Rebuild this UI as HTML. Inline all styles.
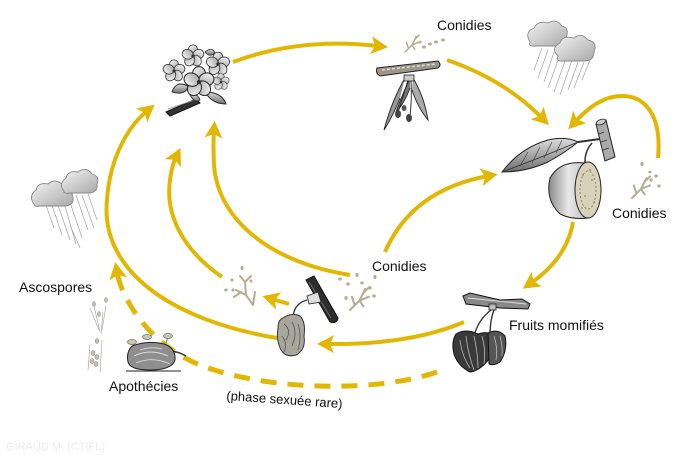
<!DOCTYPE html>
<html><head><meta charset="utf-8"><style>
html,body{margin:0;padding:0;background:#fff;}
svg{display:block;}
text{font-family:"Liberation Sans",sans-serif;fill:#111;}
</style></head><body>
<svg width="700" height="455" viewBox="0 0 700 455" xmlns="http://www.w3.org/2000/svg">
<defs>
<marker id="ah" markerUnits="userSpaceOnUse" markerWidth="24" markerHeight="24" viewBox="-4 -12 24 24" refX="6" refY="0" orient="auto">
<path d="M-1,-9 L16,0 L-1,9 L3,0 Z" fill="#E2B704"/>
</marker>
<linearGradient id="pg" x1="0" y1="0" x2="1" y2="1"><stop offset="0" stop-color="#ffffff"/><stop offset="1" stop-color="#9a9a9a"/></linearGradient>
<linearGradient id="lg" x1="0" y1="0" x2="0" y2="1"><stop offset="0" stop-color="#dcdcdc"/><stop offset="1" stop-color="#6e6e6e"/></linearGradient>
<linearGradient id="cg" x1="0" y1="0" x2="1" y2="1"><stop offset="0" stop-color="#f4f4f4"/><stop offset="1" stop-color="#a8a8a8"/></linearGradient>
<linearGradient id="ag" x1="0" y1="0" x2="1" y2="0"><stop offset="0" stop-color="#8a8a8a"/><stop offset="0.5" stop-color="#e8e8e8"/><stop offset="1" stop-color="#bdbdbd"/></linearGradient>
<g id="fl">
<ellipse cx="0" cy="-7" rx="6" ry="7" fill="url(#pg)" stroke="#222" stroke-width="0.9"/>
<ellipse cx="0" cy="-7" rx="6" ry="7" fill="url(#pg)" stroke="#222" stroke-width="0.9" transform="rotate(72)"/>
<ellipse cx="0" cy="-7" rx="6" ry="7" fill="url(#pg)" stroke="#222" stroke-width="0.9" transform="rotate(144)"/>
<ellipse cx="0" cy="-7" rx="6" ry="7" fill="url(#pg)" stroke="#222" stroke-width="0.9" transform="rotate(216)"/>
<ellipse cx="0" cy="-7" rx="6" ry="7" fill="url(#pg)" stroke="#222" stroke-width="0.9" transform="rotate(288)"/>
<circle r="2" fill="#333"/>
</g>
<g id="cn" fill="none" stroke="#b5ae90" stroke-width="2.2" stroke-linecap="round">
<path d="M0,0 L10,-10 L16,-22 M10,-10 L20,-14 M5,-5 L2,-14 M14,-18 L20,-24 M10,-10 L14,-4"/>
</g>
<g id="rain" stroke="#9a9a9a" stroke-width="0.8">
</g>
</defs>

<!-- ===== ARROWS ===== -->
<g fill="none" stroke="#E2B704" stroke-width="4" stroke-linecap="butt">
<path d="M233,62 Q300,37 378,46" marker-end="url(#ah)"/>
<path d="M447,60 Q505,80 542,118" marker-end="url(#ah)"/>
<path d="M658,158 C662,115 645,96 622,96 C603,96 588,108 575,122" marker-end="url(#ah)"/>
<path d="M573,222 Q567,258 531,283" marker-end="url(#ah)"/>
<path d="M464,322 Q410,345 327,344" marker-end="url(#ah)"/>
<path d="M289,304 L272,299" marker-end="url(#ah)"/>
<path d="M277,338 C170,320 100,270 107,200 C110,155 130,125 147,111" marker-end="url(#ah)"/>
<path d="M222,277 C183,250 165,215 170,180 Q172,165 176,157" marker-end="url(#ah)"/>
<path d="M350,275 C270,262 218,220 214,165 Q213,145 214,131" marker-end="url(#ah)"/>
<path d="M385,252 Q412,190 488,176" marker-end="url(#ah)"/>
<path d="M437,372 C380,392 270,392 200,365 C150,345 122,300 117,272" stroke-width="5" stroke-dasharray="16 11" marker-end="url(#ah)"/>
</g>

<!-- ===== FLOWER CLUSTER ===== -->
<g>
<path d="M166,112 L196,99 L200,103 L170,116 Z" fill="#333" stroke="#111" stroke-width="1"/>
<path d="M168,109 L195,100" stroke="#888" stroke-width="0.8"/>
<path d="M172,92 Q176,80 188,86 Q186,96 172,92 Z" fill="url(#lg)" stroke="#222" stroke-width="0.9"/>
<path d="M205,92 Q222,92 226,104 Q212,104 205,92 Z" fill="url(#lg)" stroke="#222" stroke-width="0.9"/>
<path d="M190,95 Q195,104 200,100 Q198,93 190,95 Z" fill="url(#lg)" stroke="#222" stroke-width="0.8"/>
<path d="M205,52 Q212,46 215,53 Q210,58 205,52 Z" fill="url(#lg)" stroke="#222" stroke-width="0.8"/>
<use href="#fl" transform="translate(193,56) scale(0.8)"/>
<use href="#fl" transform="translate(218,64) scale(0.85)"/>
<use href="#fl" transform="translate(174,71) scale(0.8)"/>
<use href="#fl" transform="translate(221,82) scale(0.6)"/>
<use href="#fl" transform="translate(199,82) scale(1.1)"/>
</g>

<!-- ===== TOP BRANCH WITH BLIGHTED FLOWERS ===== -->
<g>
<path d="M377,68 L438,61 Q442,65 438,68 L380,76 Q375,73 377,68 Z" fill="#9a968a" stroke="#222" stroke-width="1"/>
<path d="M382,70 L436,64" stroke="#ddd" stroke-width="1.5" stroke-dasharray="3 2"/>
<path d="M405,78 Q392,100 384,130 Q392,118 400,98" fill="#9a9a9a" stroke="#222" stroke-width="0.9"/>
<path d="M410,78 Q400,100 396,112 Q404,104 410,88" fill="#777" stroke="#222" stroke-width="0.9"/>
<path d="M413,78 Q424,96 428,120 Q418,108 412,90" fill="#aaa" stroke="#222" stroke-width="0.9"/>
<path d="M411,80 Q412,100 410,116" stroke="#222" stroke-width="0.9" fill="none"/>
<path d="M408,80 Q402,100 398,112" stroke="#222" stroke-width="0.9" fill="none"/>
<ellipse cx="398" cy="114" rx="3" ry="4" fill="#444"/>
<ellipse cx="409" cy="118" rx="3" ry="4" fill="#444"/>
<ellipse cx="404" cy="108" rx="2.5" ry="3" fill="#555"/>
<rect x="404" y="75" width="10" height="6" fill="#ccc" stroke="#222" stroke-width="0.8"/>
<use href="#cn" transform="translate(405,52) scale(0.7)"/>
<g fill="#b5ae90"><ellipse cx="424" cy="47" rx="2" ry="1.5"/><ellipse cx="430" cy="44" rx="2" ry="1.5"/><ellipse cx="436" cy="42" rx="2" ry="1.5"/><ellipse cx="443" cy="40" rx="2" ry="1.5"/><ellipse cx="420" cy="42" rx="1.6" ry="1.4"/></g>
</g>
<text x="437" y="30" font-size="14">Conidies</text>

<!-- ===== CLOUDS TOP RIGHT ===== -->
<g stroke="#aaa" stroke-width="0.8">
<line x1="548" y1="50" x2="538" y2="78"/><line x1="554" y1="52" x2="544" y2="82"/><line x1="560" y1="55" x2="548" y2="88"/>
<line x1="566" y1="58" x2="554" y2="92"/><line x1="572" y1="60" x2="560" y2="95"/><line x1="578" y1="62" x2="568" y2="90"/>
<line x1="584" y1="62" x2="574" y2="88"/><line x1="542" y1="48" x2="534" y2="70"/><line x1="590" y1="60" x2="582" y2="80"/>
</g>
<path d="M530,42 Q524,32 534,28 Q538,20 548,23 Q556,18 562,26 Q570,28 566,38 Q566,46 556,46 L536,46 Q528,47 530,42 Z" fill="url(#cg)" stroke="#888" stroke-width="0.9"/>
<path d="M558,56 Q550,48 560,43 Q562,35 574,38 Q582,32 588,40 Q598,42 594,52 Q594,61 584,61 L564,61 Q555,62 558,56 Z" fill="url(#cg)" stroke="#888" stroke-width="0.9"/>

<!-- ===== LEAF + APPLE ===== -->
<g>
<path d="M502,172 Q520,148 548,140 Q566,136 578,142 Q566,152 548,162 Q526,172 502,172 Z" fill="url(#lg)" stroke="#222" stroke-width="1"/>
<path d="M502,172 Q540,158 578,142" stroke="#333" stroke-width="0.8" fill="none"/>
<path d="M520,166 L528,152 M532,163 L540,147 M544,158 L552,142 M556,153 L562,140" stroke="#444" stroke-width="0.7"/>
<path d="M578,142 L600,139" stroke="#333" stroke-width="2"/>
<path d="M596,124 L606,120 L615,157 L605,161 Z" fill="#aaa" stroke="#222" stroke-width="1"/>
<ellipse cx="601" cy="122" rx="5" ry="2.5" fill="#ccc" stroke="#222" stroke-width="0.8" transform="rotate(-20 601 122)"/>
<path d="M599,134 L604,132 M601,142 L607,140 M603,150 L609,148" stroke="#333" stroke-width="0.8"/>
<path d="M592,143 Q584,152 585,165" stroke="#333" stroke-width="1.5" fill="none"/>
<path d="M585,163 Q560,160 550,178 Q545,200 560,214 Q572,220 588,218 L588,163 Z" fill="url(#ag)" stroke="#222" stroke-width="1"/>
<ellipse cx="588" cy="190" rx="13" ry="28" fill="#d8d2b8" stroke="#222" stroke-width="1"/>
<ellipse cx="588" cy="190" rx="8" ry="19" fill="none" stroke="#8a8470" stroke-width="1" stroke-dasharray="2 2"/>
<g fill="#9e9780"><circle cx="583" cy="175" r="1"/><circle cx="592" cy="180" r="1"/><circle cx="585" cy="196" r="1"/><circle cx="594" cy="202" r="1"/><circle cx="582" cy="208" r="1"/><circle cx="590" cy="170" r="1"/></g>
</g>

<!-- right conidia -->
<use href="#cn" transform="translate(632,198) scale(0.9)"/>
<g fill="#b5ae90"><ellipse cx="642" cy="164" rx="1.6" ry="2.2"/><ellipse cx="651" cy="180" rx="1.8" ry="1.6"/><ellipse cx="656" cy="176" rx="1.8" ry="1.6"/><ellipse cx="659" cy="186" rx="1.8" ry="1.6"/><ellipse cx="650" cy="172" rx="1.6" ry="1.4"/></g>
<text x="612" y="218" font-size="14">Conidies</text>

<!-- ===== LEFT CLOUDS ===== -->
<g stroke="#aaa" stroke-width="0.8">
<line x1="52" y1="205" x2="62" y2="235"/><line x1="58" y1="205" x2="70" y2="240"/><line x1="64" y1="203" x2="76" y2="244"/>
<line x1="70" y1="202" x2="82" y2="238"/><line x1="76" y1="195" x2="88" y2="230"/><line x1="82" y1="195" x2="94" y2="228"/>
<line x1="88" y1="194" x2="97" y2="220"/><line x1="46" y1="205" x2="54" y2="228"/><line x1="70" y1="225" x2="80" y2="248"/>
</g>
<path d="M34,204 Q28,196 36,190 Q38,182 48,184 Q54,178 62,184 Q72,184 72,194 Q76,204 66,206 L40,206 Q34,207 34,204 Z" fill="url(#cg)" stroke="#888" stroke-width="0.9"/>
<path d="M64,191 Q58,184 66,178 Q68,170 78,172 Q86,166 92,174 Q100,176 97,184 Q98,192 90,193 L70,193 Q63,194 64,191 Z" fill="url(#cg)" stroke="#888" stroke-width="0.9"/>

<!-- ===== CENTER CONIDIA ===== -->
<use href="#cn" transform="translate(350,310) scale(0.95)"/>
<g fill="#b5ae90"><ellipse cx="340" cy="279" rx="1.8" ry="1.6"/><ellipse cx="348" cy="284" rx="1.8" ry="1.6"/><ellipse cx="357" cy="275" rx="1.6" ry="2"/><ellipse cx="362" cy="283" rx="1.8" ry="1.6"/><ellipse cx="370" cy="288" rx="1.8" ry="1.6"/><ellipse cx="375" cy="277" rx="1.6" ry="2"/><ellipse cx="374" cy="296" rx="1.8" ry="1.6"/><ellipse cx="346" cy="298" rx="1.6" ry="2"/></g>
<text x="372" y="271" font-size="14">Conidies</text>

<!-- small left conidia -->
<g fill="none" stroke="#b5ae90" stroke-width="2" stroke-linecap="round">
<path d="M236,290 L246,295 L253,305 M246,295 L245,282 M245,282 L240,276 M245,282 L251,276 M253,305 L255,292 M241,292 L234,297"/>
</g>
<g fill="#b5ae90"><ellipse cx="242" cy="268" rx="1.5" ry="2"/><ellipse cx="226" cy="290" rx="1.8" ry="1.5"/><ellipse cx="232" cy="280" rx="1.6" ry="1.5"/><ellipse cx="233" cy="290" rx="1.6" ry="1.5"/><ellipse cx="251" cy="281" rx="1.5" ry="1.5"/></g>

<!-- ===== LEFT MUMMY ===== -->
<g>
<path d="M306,280 L314,276 L338,318 Q337,324 330,322 Z" fill="#2d2d2d" stroke="#111" stroke-width="1"/>
<path d="M309,282 L331,318" stroke="#777" stroke-width="0.8"/>
<path d="M307,296 L318,292 L321,302 L309,304 Z" fill="#ddd" stroke="#222" stroke-width="0.8"/>
<path d="M307,300 Q295,303 293,316" stroke="#333" stroke-width="1.4" fill="none"/>
<path d="M283,318 Q292,312 300,316 Q306,322 304,336 Q306,350 296,355 Q286,358 281,350 Q276,340 278,328 Q278,320 283,318 Z" fill="#a9a79c" stroke="#333" stroke-width="1"/>
<path d="M284,324 Q292,330 286,340 M292,322 Q298,332 292,346 M298,324 Q302,336 298,350 M282,336 Q288,344 284,352" stroke="#555" stroke-width="0.8" fill="none"/>
</g>

<!-- ===== FRUITS MOMIFIÉS ===== -->
<g>
<path d="M463,296 L470,293 L500,300 L522,299 L530,304 L528,309 L500,308 L466,304 Z" fill="#888" stroke="#111" stroke-width="1"/>
<path d="M468,298 L526,304" stroke="#ddd" stroke-width="1"/>
<rect x="489" y="304" width="7" height="6" fill="#bbb" stroke="#222" stroke-width="0.8"/>
<path d="M491,310 Q478,320 474,336 M494,310 Q490,320 490,336" stroke="#333" stroke-width="1.4" fill="none"/>
<path d="M456,334 Q466,328 478,334 Q490,330 494,338 Q496,356 480,368 Q474,372 470,372 Q458,366 454,354 Q451,342 456,334 Z" fill="#3a3a3a" stroke="#111" stroke-width="1"/>
<path d="M488,333 Q498,328 505,336 Q508,350 500,362 Q494,366 489,364 Z" fill="#555" stroke="#111" stroke-width="1"/>
<path d="M460,340 Q462,356 470,368 M466,336 Q468,354 474,370 M474,336 Q478,354 478,368 M482,336 Q486,350 484,364 M494,336 Q498,348 496,360 M500,336 Q503,348 502,356" stroke="#bbb" stroke-width="0.8" fill="none"/>
</g>
<text x="509" y="330" font-size="14">Fruits momifiés</text>

<!-- ===== APOTHÉCIES ===== -->
<g>
<line x1="126" y1="371" x2="181" y2="371" stroke="#222" stroke-width="1"/>
<path d="M165,351 Q176,350 186,356" stroke="#333" stroke-width="1.5" fill="none"/>
<path d="M132,346 Q148,340 164,344 Q176,348 175,360 Q172,370 150,370 Q130,370 128,362 Q126,352 132,346 Z" fill="#8e8e8e" stroke="#222" stroke-width="1"/>
<path d="M134,356 Q150,348 168,356 M136,363 Q152,356 170,364 M140,350 Q152,346 162,349" stroke="#ddd" stroke-width="0.9" fill="none"/>
<path d="M133,345 L132,342 M148,340 L147,336 M166,343 L168,337" stroke="#999" stroke-width="1.5"/>
<ellipse cx="132" cy="342" rx="4.5" ry="2.5" fill="#c9c6b4" stroke="#777" stroke-width="0.8"/>
<ellipse cx="147" cy="337" rx="4.5" ry="2.5" fill="#c9c6b4" stroke="#777" stroke-width="0.8"/>
<ellipse cx="168" cy="336" rx="4.5" ry="2.5" fill="#c9c6b4" stroke="#777" stroke-width="0.8"/>
</g>
<text x="109" y="391" font-size="14">Apothécies</text>

<!-- ===== ASCOSPORES ===== -->
<g>
<g stroke="#aaa" stroke-width="0.7"><line x1="90" y1="308" x2="99" y2="330"/><line x1="94" y1="306" x2="100" y2="332"/><line x1="103" y1="312" x2="101" y2="334"/><line x1="106" y1="306" x2="102" y2="330"/><line x1="90" y1="345" x2="88" y2="370"/><line x1="102" y1="340" x2="100" y2="372"/></g>
<g fill="#c5c0a8" stroke="#888" stroke-width="0.5"><ellipse cx="94" cy="304" rx="1.5" ry="2.5"/><ellipse cx="106" cy="300" rx="1.5" ry="2.5"/><ellipse cx="99" cy="314" rx="1.5" ry="2.5"/><ellipse cx="97" cy="341" rx="1.8" ry="2.5"/><ellipse cx="93" cy="353" rx="2" ry="2.5"/><ellipse cx="97" cy="357" rx="2" ry="2.5"/><ellipse cx="92" cy="361" rx="2" ry="2.5"/><ellipse cx="96" cy="364" rx="2" ry="2.5"/></g>
</g>
<text x="19" y="292" font-size="14">Ascospores</text>

<text x="226" y="404" font-size="13" transform="rotate(4 284 404)">(phase sexuée rare)</text>

<text x="6" y="450" font-size="11" style="fill:#ebebeb">GIRAUD M. (CTIFL)</text>
</svg>
</body></html>
